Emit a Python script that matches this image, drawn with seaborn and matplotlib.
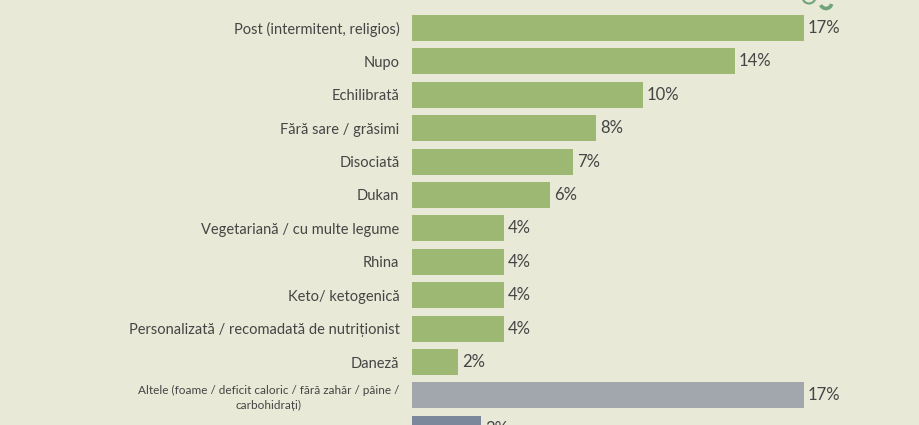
import matplotlib
matplotlib.use("Agg")
import matplotlib.pyplot as plt
import seaborn as sns
import pandas as pd
from matplotlib.patches import Arc

categories = [
    "Post (intermitent, religios)",
    "Nupo",
    "Echilibrată",
    "Fără sare / grăsimi",
    "Disociată",
    "Dukan",
    "Vegetariană / cu multe legume",
    "Rhina",
    "Keto/ ketogenică",
    "Personalizată / recomadată de nutriționist",
    "Daneză",
    "Altele (foame / deficit caloric / fără zahăr / pâine /\ncarbohidrați)",
    "NS/NR",
]
values = [17, 14, 10, 8, 7, 6, 4, 4, 4, 4, 2, 17, 3]
value_labels = ["17%", "14%", "10%", "8%", "7%", "6%", "4%", "4%", "4%", "4%", "2%", "17%", "3%"]

GREEN = "#9CB872"
GRAY = "#A1A7AC"
SLATE = "#7B879A"
BG = "#E8E9D7"
TXT = "#454545"
bar_colors = [GREEN] * 11 + [GRAY, SLATE]

df = pd.DataFrame({"cat": categories, "val": values})

sns.set_theme(style="white")
plt.rcParams["font.family"] = ["Lato", "DejaVu Sans"]

fig = plt.figure(figsize=(9.2, 4.25), dpi=100)
fig.patch.set_facecolor(BG)
ax = fig.add_axes([412 / 920, 0, 508 / 920, 1])
ax.set_facecolor(BG)

sns.barplot(data=df, x="val", y="cat", hue="cat", palette=bar_colors,
            legend=False, width=0.78, ax=ax, saturation=1, linewidth=0)

px_per = (804 - 412) / 17.0
ax.set_xlim(0, 508 / px_per)
pitch = 33.4
ax.set_ylim((425 - 28) / pitch, -28 / pitch)

for i, (v, lab) in enumerate(zip(values, value_labels)):
    ax.text(v + 4 / px_per, i, lab, va="center", ha="left",
            fontsize=12, color=TXT)

ax.set_xlabel("")
ax.set_ylabel("")
ax.set_xticks([])
ax.tick_params(axis="y", length=0, pad=9, labelsize=10.5, labelcolor=TXT)
for lbl in ax.get_yticklabels():
    lbl.set_horizontalalignment("right")
    lbl.set_multialignment("center")
    if lbl.get_text().startswith("Altele"):
        lbl.set_fontsize(8.5)
        lbl.set_linespacing(1.35)
for s in ax.spines.values():
    s.set_visible(False)

# partial decorative icon at top right
fax = fig.add_axes([0, 0, 1, 1], facecolor="none")
fax.set_xlim(0, 920)
fax.set_ylim(425, 0)
fax.axis("off")
fax.add_patch(Arc((809, -3), 13, 13, theta1=15, theta2=165, color="#6FA37A", lw=1.5))
fax.add_patch(Arc((826, 2), 12, 13, theta1=20, theta2=150, color="#6FA37A", lw=2.6))

fig.savefig("out.png", dpi=100, facecolor=BG)
